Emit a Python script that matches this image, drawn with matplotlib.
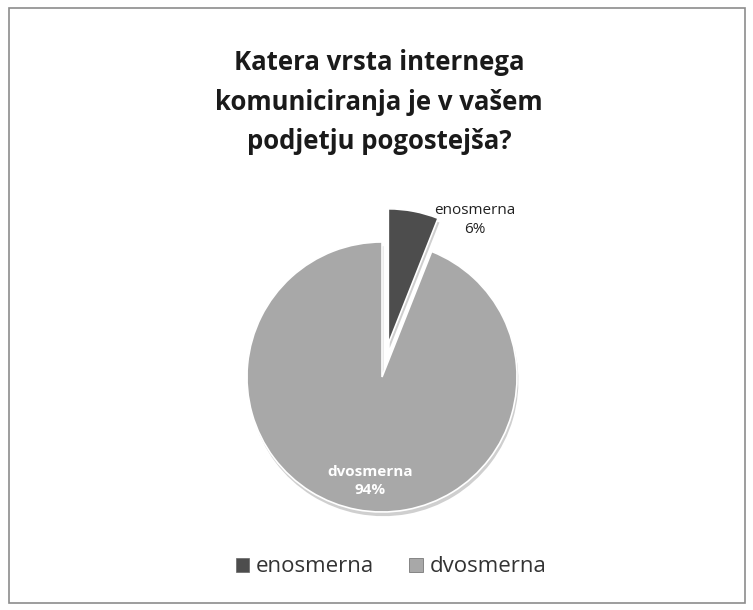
import matplotlib.pyplot as plt
import matplotlib.patheffects as pe
from matplotlib.patches import Rectangle, Patch

labels = ['enosmerna', 'dvosmerna']
shares = [6, 94]
colors = ['#4d4d4d', '#a8a8a8']
title = 'Katera vrsta internega\nkomuniciranja je v vašem\npodjetju pogostejša?'

plt.rcParams['font.family'] = ['Open Sans', 'DejaVu Sans']

fig = plt.figure(figsize=(7.53, 6.10), dpi=100)
W, H = 753, 610

# chart frame
fig.patches.append(Rectangle((9 / W, 7 / H), 736 / W, 595 / H, transform=fig.transFigure,
                             fill=False, edgecolor='#8c8c8c', linewidth=1.2))

fig.text(379 / W, 1 - 102 / H, title, ha='center', va='center', fontsize=18.5,
         fontweight='bold', linespacing=1.58, color='#1a1a1a')

cx, cy, r = 382, 377, 135
half = 150
ax = fig.add_axes([(cx - half) / W, (H - cy - half) / H, 2 * half / W, 2 * half / H])

wedges, _ = ax.pie(shares, colors=colors, startangle=90, counterclock=False,
                   explode=[0.25, 0], radius=1,
                   wedgeprops=dict(edgecolor='white', linewidth=1.2))
for w in wedges:
    w.set_path_effects([pe.SimplePatchShadow(offset=(1, -3), shadow_rgbFace='#777777', alpha=0.35),
                        pe.Normal()])

lim = half / r
ax.set_xlim(-lim, lim)
ax.set_ylim(-lim, lim)
ax.set_aspect('equal')
ax.axis('off')

ax.text(0.69, 1.16, f'{labels[0]}\n{shares[0]}%', ha='center', va='center',
        fontsize=11, color='#222222', linespacing=1.35)
ax.text(-0.09, -0.77, f'{labels[1]}\n{shares[1]}%', ha='center', va='center',
        fontsize=11, color='white', fontweight='bold', linespacing=1.35)

handles = [Patch(facecolor=c, edgecolor='#666666', linewidth=0.5) for c in colors]
fig.legend(handles, labels, loc='center', bbox_to_anchor=(391 / W, 1 - 567 / H), ncol=2,
           frameon=False, fontsize=16, handlelength=0.6, handleheight=0.6,
           handletextpad=0.3, columnspacing=1.6, labelcolor='#333333')

fig.savefig('out.png', dpi=100)
